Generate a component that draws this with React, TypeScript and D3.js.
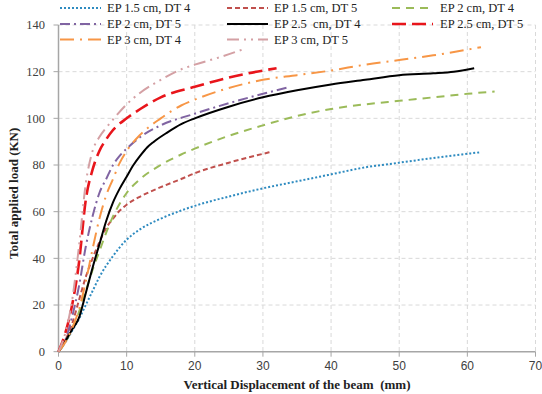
import React from "react";
import * as d3 from "d3";

const xTicks = [0, 10, 20, 30, 40, 50, 60, 70];
const yTicks = [0, 20, 40, 60, 80, 100, 120, 140];

const seriesNames = [
  "EP 1.5 cm, DT 4",
  "EP 1.5 cm, DT 5",
  "EP 2 cm, DT 4",
  "EP 2 cm, DT 5",
  "EP 2.5  cm, DT 4",
  "EP 2.5 cm, DT 5",
  "EP 3 cm, DT 4",
  "EP 3 cm, DT 5",
];

const ep15dt4: [number, number][] = [[0,0],[1,4],[2,9],[3,14],[4,20],[5,26],[6,32],[8,41],[10,48],[12,52.5],[15,57],[18,60.5],[20,62.5],[25,66.5],[30,70],[35,73],[40,76],[45,79],[50,81],[55,83],[62,85.5]];
const ep15dt5: [number, number][] = [[0,0],[1,5],[2,12],[3,22],[4,32],[5,40],[6,47],[7,53],[8,57],[9,60.5],[10,63],[12,66.5],[15,70.5],[18,74],[20,76.5],[25,81],[31,85.5]];
const ep2dt4: [number, number][] = [[0,0],[1,4],[2,10],[3,17],[4,26],[5,35],[6,43],[7,51],[8,58],[9,63.5],[10,68],[12,74],[15,80],[18,84.5],[20,87],[25,92.5],[30,97],[35,101],[40,104],[45,106],[50,107.5],[55,109],[60,110.5],[64,111.5]];
const ep2dt5: [number, number][] = [[0,0],[1,5],[2,15],[3,28],[4,45],[5,58],[6,68],[7,74],[8,80],[9,84],[10,87],[12,92],[15,97],[20,102],[25,106.5],[30,110.5],[34,113.5]];
const ep25dt4: [number, number][] = [[0,0],[1,4.5],[2,9.5],[3,14.5],[4,25],[5,36],[6,46],[7,56],[8,64],[9,70],[10,75],[11,80],[12,84],[13,87.5],[14,90],[16,94],[18,97.5],[20,100],[25,105],[30,109],[35,112],[40,114.5],[45,116.5],[50,118.5],[55,119.3],[58,120],[61,121.5]];
const ep25dt5: [number, number][] = [[0,0],[1,8],[2,20],[3,38],[4,65],[5,78],[6,86],[7,91],[8,95],[10,100],[12,104],[15,109],[20,113.5],[25,117.5],[32,121.5]];
const ep3dt4: [number, number][] = [[0,0],[1,4],[2,10],[3,18],[4,30],[5,44],[6,57],[7,67],[8,74],[9,81],[10,86],[12,93],[15,100],[18,105.5],[20,108],[25,113],[30,116.5],[35,118.5],[40,120.5],[45,123],[50,125],[55,127],[62,130.5]];
const ep3dt5: [number, number][] = [[0,0],[1,8],[2,22],[3,45],[4,72],[5,86],[6,92],[7,96],[8,99.5],[10,106],[12,111],[15,116.5],[18,121],[20,123],[24,126.5],[27,129.5]];

const seriesData = [ep15dt4, ep15dt5, ep2dt4, ep2dt5, ep25dt4, ep25dt5, ep3dt4, ep3dt5];

const styles = [
  { color: "#2E8BC0", dash: "2,2", width: 2 },
  { color: "#C0504D", dash: "5,3", width: 2 },
  { color: "#9BBB59", dash: "8,6", width: 2 },
  { color: "#8064A2", dash: "10,4,2,4", width: 2 },
  { color: "#000000", dash: "", width: 2 },
  { color: "#E8151B", dash: "14,6", width: 2.6 },
  { color: "#F79646", dash: "14,6,2,6", width: 2 },
  { color: "#D4A0A4", dash: "12,5,2,5,2,5", width: 2 },
];

export default function App() {
  const W = 542, H = 394;
  const x = d3.scaleLinear().domain([0, 70]).range([58.5, 535.5]);
  const y = d3.scaleLinear().domain([0, 140]).range([351.7, 25]);
  const line = d3.line<[number, number]>().x(d => x(d[0])).y(d => y(d[1])).curve(d3.curveMonotoneX);

  const legendCols = [{ lx: 60, tx: 107 }, { lx: 227, tx: 274 }, { lx: 392, tx: 440 }];
  const legendRows = [8, 24, 39.5];

  return (
    <svg width={W} height={H} style={{ position: "absolute", left: 0, top: 0, background: "#fff" }}>
      <rect width={W} height={H} fill="#fff" />
      {/* grid */}
      {yTicks.filter(t => t > 0).map(t => (
        <line key={"gy" + t} x1={x(0)} x2={x(70)} y1={y(t)} y2={y(t)} stroke="#D9D9D9" strokeDasharray="4,3" strokeWidth={1} />
      ))}
      {xTicks.filter(t => t > 0).map(t => (
        <line key={"gx" + t} x1={x(t)} x2={x(t)} y1={y(140)} y2={y(0)} stroke="#D9D9D9" strokeDasharray="4,3" strokeWidth={1} />
      ))}
      {/* axes */}
      <line x1={x(0)} x2={x(0)} y1={y(140)} y2={y(0)} stroke="#A6A6A6" strokeWidth={1.5} />
      <line x1={x(0)} x2={x(70)} y1={y(0)} y2={y(0)} stroke="#A6A6A6" strokeWidth={1.5} />
      {yTicks.map(t => (
        <g key={"yt" + t}>
          <line x1={x(0) - 5} x2={x(0)} y1={y(t)} y2={y(t)} stroke="#A6A6A6" strokeWidth={1} />
          <text x={45} y={y(t)} dy="0.35em" textAnchor="end" fontFamily="Liberation Serif, serif" fontSize={12.5} fill="#404040">{t}</text>
        </g>
      ))}
      {xTicks.map(t => (
        <g key={"xt" + t}>
          <line x1={x(t)} x2={x(t)} y1={y(0)} y2={y(0) + 5} stroke="#A6A6A6" strokeWidth={1} />
          <text x={x(t)} y={366} dy="0.35em" textAnchor="middle" fontFamily="Liberation Sans, sans-serif" fontSize={12} fill="#404040">{t}</text>
        </g>
      ))}
      <text x={0} y={0} transform={`translate(18,${(y(0) + y(140)) / 2 + 5}) rotate(-90)`} textAnchor="middle" fontFamily="Liberation Serif, serif" fontWeight="bold" fontSize={13} fill="#222">Total applied load (KN)</text>
      <text x={297} y={384} dy="0.35em" textAnchor="middle" fontFamily="Liberation Serif, serif" fontWeight="bold" fontSize={13} fill="#222" xmlSpace="preserve">Vertical Displacement of the beam  (mm)</text>
      {/* series */}
      {seriesData.map((d, i) => (
        <path key={"s" + i} d={line(d) || ""} fill="none" stroke={styles[i].color} strokeWidth={styles[i].width} strokeDasharray={styles[i].dash || undefined} />
      ))}
      {/* legend */}
      {seriesNames.map((n, i) => {
        const col = legendCols[i % 3];
        const row = legendRows[Math.floor(i / 3)];
        return (
          <g key={"lg" + i}>
            <line x1={col.lx} x2={col.lx + 41} y1={row} y2={row} stroke={styles[i].color} strokeWidth={styles[i].width} strokeDasharray={styles[i].dash || undefined} />
            <text x={col.tx} y={row} dy="0.35em" fontFamily="Liberation Serif, serif" fontSize={12.5} fill="#222" xmlSpace="preserve">{n}</text>
          </g>
        );
      })}
    </svg>
  );
}
